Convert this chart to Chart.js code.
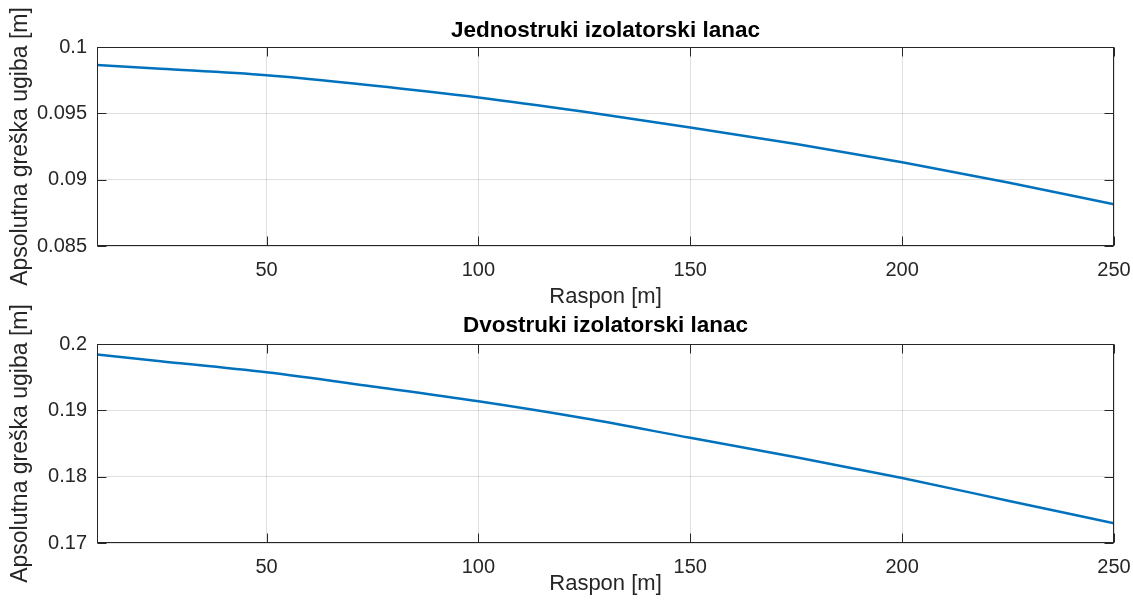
<!DOCTYPE html>
<html>
<head>
<meta charset="utf-8">
<script src="https://cdn.jsdelivr.net/npm/chart.js@4.4.0/dist/chart.umd.min.js"></script>
<style>
  html, body { margin: 0; padding: 0; background: #fff; }
  #wrap { position: relative; width: 1133px; height: 605px; }
  canvas { position: absolute; left: 0; }
  #c1 { top: 0; }
  #c2 { top: 300px; }
</style>
</head>
<body>
<div id="wrap">
  <canvas id="c1" width="1133" height="310"></canvas>
  <canvas id="c2" width="1133" height="305"></canvas>
</div>
<script>
// raspon [m] - x osa
const raspon = [10, 25, 50, 75, 100, 125, 150, 175, 200, 225, 250];
// apsolutna greška ugiba [m], očitano sa slike
const jednostruki = [0.09864, 0.09836, 0.09787, 0.09710, 0.09620, 0.09512, 0.09394, 0.09269, 0.09131, 0.08978, 0.08815];
const dvostruki = [0.19840, 0.19741, 0.19573, 0.19359, 0.19136, 0.18880, 0.18586, 0.18294, 0.17979, 0.17638, 0.17296];

const xTicks = [50, 100, 150, 200, 250];
const yTicksJed = [0.085, 0.09, 0.095, 0.1];
const yTicksDvo = [0.17, 0.18, 0.19, 0.2];

const FONT = "'Liberation Sans', Arial, Helvetica, sans-serif";
const AXIS_COLOR = '#262626';
const GRID_COLOR = 'rgba(38, 38, 38, 0.15)';
const LINE_COLOR = '#0072BD';

// okvir i unutrašnji tikovi kao u MATLAB-u
const matlabBox = {
    id: 'matlabBox',
    afterDatasetsDraw(chart) {
        const { ctx, chartArea: a, scales } = chart;
        const tl = 9;
        ctx.save();
        ctx.strokeStyle = AXIS_COLOR;
        ctx.lineWidth = 1;
        const L = Math.round(a.left) + 0.5, R = Math.round(a.right) - 0.5;
        const T = Math.round(a.top) + 0.5, B = Math.round(a.bottom) - 0.5;
        ctx.beginPath();
        scales.x.ticks.forEach(t => {
            const px = Math.round(scales.x.getPixelForValue(t.value)) + 0.5;
            ctx.moveTo(px, B); ctx.lineTo(px, B - tl);
            ctx.moveTo(px, T); ctx.lineTo(px, T + tl);
        });
        scales.y.ticks.forEach(t => {
            const py = Math.round(scales.y.getPixelForValue(t.value)) + 0.5;
            ctx.moveTo(L, py); ctx.lineTo(L + tl, py);
            ctx.moveTo(R, py); ctx.lineTo(R - tl, py);
        });
        ctx.stroke();
        ctx.strokeRect(L, T, R - L, B - T);
        ctx.restore();
    }
};

function makeChart(canvasId, title, values, yTicks, opts) {
    const ctx = document.getElementById(canvasId).getContext('2d');
    return new Chart(ctx, {
        type: 'line',
        data: {
            datasets: [{
                data: raspon.map((x, i) => ({ x: x, y: values[i] })),
                borderColor: LINE_COLOR,
                borderWidth: 2.5,
                pointRadius: 0,
                fill: false,
                cubicInterpolationMode: 'monotone'
            }]
        },
        options: {
            responsive: false,
            animation: false,
            events: [],
            layout: { padding: { left: 0, right: 19, top: 0, bottom: 0 } },
            plugins: {
                legend: { display: false },
                tooltip: { enabled: false },
                title: { display: false }
            },
            scales: {
                x: {
                    type: 'linear',
                    min: 10,
                    max: 250,
                    afterBuildTicks: s => { s.ticks = xTicks.map(v => ({ value: v })); },
                    afterFit: s => { s.height = opts.xHeight; s.paddingLeft = 0; s.paddingRight = 0; },
                    grid: { color: GRID_COLOR, drawTicks: false },
                    border: { display: false },
                    ticks: {
                        color: AXIS_COLOR,
                        padding: 12,
                        maxRotation: 0,
                        font: { family: FONT, size: 20 },
                        callback: v => String(v)
                    },
                    title: {
                        display: true,
                        text: 'Raspon [m]',
                        color: AXIS_COLOR,
                        font: { family: FONT, size: 22 },
                        padding: { top: 0, bottom: opts.xTitleBottom }
                    }
                },
                // gornja osa služi samo za naslov centriran iznad grafika
                xTop: {
                    type: 'linear',
                    position: 'top',
                    min: 10,
                    max: 250,
                    afterFit: s => { s.height = opts.titleHeight; s.paddingLeft = 0; s.paddingRight = 0; },
                    grid: { display: false, drawTicks: false },
                    border: { display: false },
                    ticks: { display: false },
                    title: {
                        display: true,
                        text: title,
                        color: '#000',
                        font: { family: FONT, size: 22.5, weight: 'bold' },
                        padding: { top: opts.titleTop, bottom: 0 }
                    }
                },
                y: {
                    type: 'linear',
                    min: yTicks[0],
                    max: yTicks[yTicks.length - 1],
                    afterBuildTicks: s => { s.ticks = yTicks.map(v => ({ value: v })); },
                    afterFit: s => { s.width = 97; },
                    grid: { color: GRID_COLOR, drawTicks: false },
                    border: { display: false },
                    ticks: {
                        color: AXIS_COLOR,
                        padding: 10,
                        font: { family: FONT, size: 20 },
                        callback: v => String(v)
                    },
                    title: {
                        display: true,
                        text: 'Apsolutna greška ugiba [m]',
                        color: AXIS_COLOR,
                        font: { family: FONT, size: 23 },
                        padding: { top: 7, bottom: 0 }
                    }
                }
            }
        },
        plugins: [matlabBox]
    });
}

makeChart('c1', 'Jednostruki izolatorski lanac', jednostruki, yTicksJed,
    { titleHeight: 47, titleTop: 17, xHeight: 64, xTitleBottom: 0 });
makeChart('c2', 'Dvostruki izolatorski lanac', dvostruki, yTicksDvo,
    { titleHeight: 44, titleTop: 12, xHeight: 62, xTitleBottom: 8 });
</script>
</body>
</html>
